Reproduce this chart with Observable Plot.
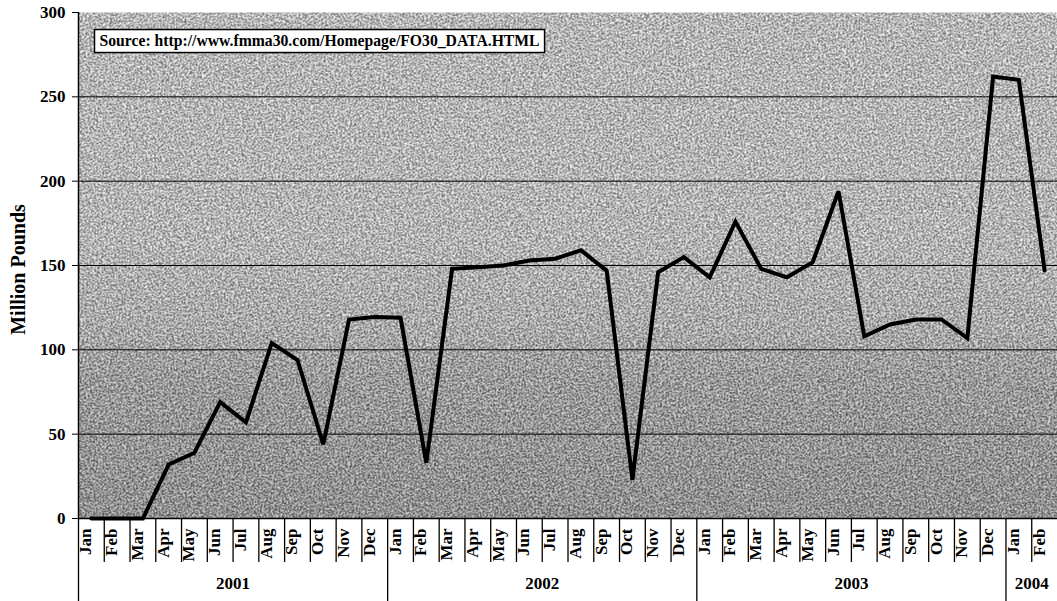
<!DOCTYPE html>
<html>
<head>
<meta charset="utf-8">
<script src="https://cdn.jsdelivr.net/npm/d3@7"></script>
<script src="https://cdn.jsdelivr.net/npm/@observablehq/plot@0.6"></script>
<style>
  html, body { margin: 0; padding: 0; background: #fff; }
  #chart svg { display: block; }
</style>
</head>
<body>
<div id="chart"></div>
<script>
// ---- data ----
const months = ["Jan","Feb","Mar","Apr","May","Jun","Jul","Aug","Sep","Oct","Nov","Dec"];
const years = ["2001", "2002", "2003", "2004"];
const yearMonthCounts = [12, 12, 12, 2];
const values = [
  0, 0, 0, 32, 39, 69, 57, 104, 94, 44, 118, 119.5,        // 2001
  119, 33, 148, 149, 150, 153, 154, 159, 147, 23, 146, 155, // 2002
  143, 176, 148, 143, 152, 194, 108, 115, 118, 118, 107, 262, // 2003
  260, 147                                                   // 2004
];
const yTicks = [0, 50, 100, 150, 200, 250, 300];
const gridValues = [50, 100, 150, 200, 250];
const sourceText = "Source: http://www.fmma30.com/Homepage/FO30_DATA.HTML";
const yLabel = "Million Pounds";

// ---- derived tables ----
const points = values.map((v, i) => ({ i, month: months[i % 12], v }));
const yearStarts = yearMonthCounts.map((c, k) => d3.sum(yearMonthCounts.slice(0, k)));
const yearRows = years.map((y, k) => ({ year: y, start: yearStarts[k], end: yearStarts[k] + yearMonthCounts[k] }));
const monthBoundaries = d3.range(1, values.length).filter(i => !yearStarts.includes(i));

const font = "'Liberation Serif', 'Times New Roman', Times, serif";

const chart = Plot.plot({
  width: 1057,
  height: 601,
  marginLeft: 78,
  marginRight: 0,
  marginTop: 12,
  marginBottom: 83,
  style: { fontFamily: font, fontWeight: "bold", fontSize: "17px", color: "#000", background: "transparent", overflow: "visible" },
  x: { type: "linear", domain: [0, values.length], axis: null },
  y: { domain: [0, 300], axis: null },
  marks: [
    Plot.frame({ fill: "url(#bgGrad)", stroke: "none" }),
    Plot.frame({ fill: "url(#noisePat)", stroke: "none", fillOpacity: 0.62 }),
    Plot.ruleY(gridValues, { stroke: "#000", strokeWidth: 1 }),
    Plot.ruleY([0], { stroke: "#000", strokeWidth: 1.5 }),
    Plot.ruleX([0], { stroke: "#000", strokeWidth: 1.5 }),
    // month separators below axis
    Plot.ruleX(monthBoundaries, { y1: 0, y2: 0, insetBottom: -44, stroke: "#000", strokeWidth: 1.3 }),
    // year separators below axis
    Plot.ruleX(yearStarts, { y1: 0, y2: 0, insetBottom: -83, stroke: "#000", strokeWidth: 1.3 }),
    Plot.axisY(yTicks, { tickSize: 6, tickPadding: 7, fontSize: 17, label: null, stroke: "#000" }),
    Plot.text([yLabel], { frameAnchor: "left", dx: -60, dy: 4, rotate: -90, textAnchor: "middle", fontSize: 20, fill: "#000" }),
    Plot.text(points, { x: d => d.i + 0.5, text: "month", frameAnchor: "bottom", dy: 10, rotate: -90, textAnchor: "end", fontSize: 17, fill: "#000" }),
    Plot.text(yearRows, { x: d => (d.start + d.end) / 2, text: "year", frameAnchor: "bottom", dy: 70, fontSize: 17, fill: "#000" }),
    Plot.line(points, { x: d => d.i + 0.5, y: "v", stroke: "#000", strokeWidth: 4, strokeLinejoin: "miter", strokeMiterlimit: 3 }),
    Plot.text([sourceText], { frameAnchor: "top-left", dx: 21, dy: 28, textAnchor: "start", lineAnchor: "middle", fontSize: 15.7, fill: "#000" })
  ]
});

chart.insertAdjacentHTML("afterbegin", `
<defs>
  <linearGradient id="bgGrad" x1="0" y1="0" x2="0" y2="1">
    <stop offset="0" stop-color="#f4f4f4"/>
    <stop offset="0.45" stop-color="#eeeeee"/>
    <stop offset="0.62" stop-color="#d4d4d4"/>
    <stop offset="0.72" stop-color="#acacac"/>
    <stop offset="1" stop-color="#909090"/>
  </linearGradient>
  <filter id="noiseFilter" x="0" y="0" width="1" height="1" color-interpolation-filters="sRGB">
    <feTurbulence type="fractalNoise" baseFrequency="0.75" numOctaves="1" seed="11"/>
    <feColorMatrix type="matrix" values="5 0 0 0 -1.9  5 0 0 0 -1.9  5 0 0 0 -1.9  0 0 0 0 1"/>
  </filter>
  <pattern id="noisePat" patternUnits="userSpaceOnUse" x="0" y="0" width="1057" height="601">
    <rect x="0" y="0" width="1057" height="601" filter="url(#noiseFilter)"/>
  </pattern>
</defs>`);

document.getElementById("chart").appendChild(chart);

// white box behind source text, sized to the text
const srcNode = Array.from(chart.querySelectorAll("text")).find(t => t.textContent === sourceText);
if (srcNode) {
  const bb = srcNode.getBBox();
  const ns = "http://www.w3.org/2000/svg";
  const r = document.createElementNS(ns, "rect");
  r.setAttribute("x", bb.x - 5);
  r.setAttribute("y", bb.y - 2);
  r.setAttribute("width", bb.width + 10);
  r.setAttribute("height", bb.height + 5);
  r.setAttribute("fill", "#fff");
  r.setAttribute("stroke", "#000");
  r.setAttribute("stroke-width", 1.5);
  const tr = srcNode.getAttribute("transform");
  if (tr) r.setAttribute("transform", tr);
  srcNode.parentNode.insertBefore(r, srcNode);
}
</script>
</body>
</html>
